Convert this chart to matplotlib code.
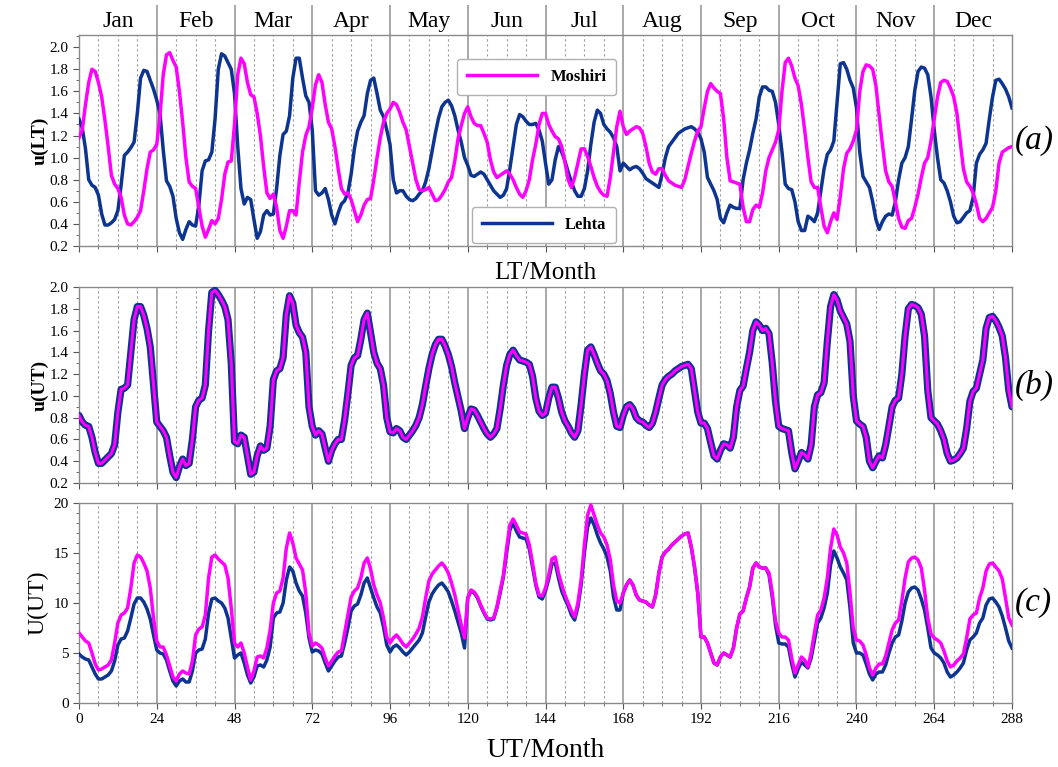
import numpy as np
import matplotlib
matplotlib.use("Agg")
import matplotlib.pyplot as plt
from matplotlib.ticker import MultipleLocator

plt.rcParams['font.family'] = ['Liberation Serif', 'DejaVu Serif']

months = ['Jan', 'Feb', 'Mar', 'Apr', 'May', 'Jun', 'Jul', 'Aug', 'Sep', 'Oct', 'Nov', 'Dec']
hours = np.arange(289)

# (a) u(LT) -- Lehta
lehta_ult = [
    1.35, 1.27, 1.08, 0.80, 0.75, 0.73, 0.66, 0.49, 0.39, 0.39, 0.41, 0.44, 0.52, 0.75, 1.02, 1.05, 1.09, 1.14, 1.40, 1.72, 1.79, 1.78, 1.70, 1.62,
    1.52, 1.40, 1.07, 0.79, 0.74, 0.65, 0.45, 0.32, 0.26, 0.35, 0.42, 0.39, 0.38, 0.57, 0.88, 0.97, 0.98, 1.05, 1.35, 1.80, 1.94, 1.92, 1.86, 1.80,
    1.58, 1.10, 0.72, 0.58, 0.64, 0.62, 0.44, 0.27, 0.33, 0.48, 0.52, 0.48, 0.49, 0.72, 1.02, 1.21, 1.24, 1.38, 1.72, 1.90, 1.90, 1.72, 1.56, 1.50,
    1.25, 0.70, 0.66, 0.68, 0.72, 0.62, 0.48, 0.40, 0.50, 0.58, 0.61, 0.68, 0.85, 1.08, 1.24, 1.32, 1.38, 1.58, 1.70, 1.72, 1.58, 1.43, 1.37, 1.25,
    1.12, 0.80, 0.68, 0.70, 0.70, 0.65, 0.62, 0.61, 0.63, 0.67, 0.70, 0.78, 0.90, 1.06, 1.22, 1.36, 1.46, 1.50, 1.52, 1.47, 1.38, 1.25, 1.14, 1.00,
    0.93, 0.84, 0.83, 0.85, 0.87, 0.85, 0.80, 0.75, 0.70, 0.67, 0.64, 0.66, 0.72, 0.90, 1.10, 1.30, 1.39, 1.37, 1.33, 1.30, 1.30, 1.31, 1.25, 1.15,
    0.95, 0.76, 0.80, 0.98, 1.10, 1.05, 0.97, 0.87, 0.78, 0.70, 0.65, 0.65, 0.72, 0.88, 1.12, 1.32, 1.43, 1.40, 1.30, 1.26, 1.23, 1.18, 1.10, 0.88,
    0.95, 0.92, 0.89, 0.91, 0.92, 0.90, 0.86, 0.81, 0.79, 0.77, 0.75, 0.73, 0.85, 1.00, 1.10, 1.14, 1.18, 1.22, 1.24, 1.26, 1.27, 1.28, 1.26, 1.23,
    1.17, 1.05, 0.82, 0.76, 0.70, 0.62, 0.45, 0.41, 0.50, 0.57, 0.55, 0.54, 0.54, 0.80, 0.95, 1.07, 1.22, 1.35, 1.55, 1.64, 1.64, 1.61, 1.60, 1.50,
    1.30, 1.05, 0.76, 0.72, 0.71, 0.60, 0.42, 0.34, 0.34, 0.47, 0.45, 0.42, 0.50, 0.70, 0.90, 1.03, 1.07, 1.15, 1.50, 1.85, 1.86, 1.80, 1.70, 1.63,
    1.45, 1.05, 0.83, 0.78, 0.73, 0.60, 0.44, 0.35, 0.42, 0.47, 0.49, 0.48, 0.60, 0.80, 0.95, 1.00, 1.10, 1.35, 1.61, 1.78, 1.82, 1.81, 1.75, 1.55,
    1.25, 1.00, 0.80, 0.77, 0.70, 0.60, 0.47, 0.41, 0.42, 0.46, 0.50, 0.52, 0.64, 0.95, 1.03, 1.07, 1.13, 1.35, 1.55, 1.70, 1.71, 1.67, 1.62, 1.55,
    1.45]

# (a) u(LT) -- Moshiri
moshiri_ult = [
    1.18, 1.25, 1.48, 1.68, 1.80, 1.78, 1.68, 1.55, 1.34, 1.10, 0.84, 0.76, 0.72, 0.64, 0.48, 0.40, 0.39, 0.42, 0.46, 0.52, 0.70, 0.90, 1.05, 1.07,
    1.12, 1.38, 1.75, 1.93, 1.95, 1.88, 1.82, 1.60, 1.32, 1.00, 0.78, 0.74, 0.72, 0.55, 0.38, 0.28, 0.35, 0.43, 0.40, 0.45, 0.62, 0.85, 0.96, 0.97,
    1.30, 1.75, 1.90, 1.85, 1.68, 1.57, 1.55, 1.40, 1.20, 0.92, 0.68, 0.63, 0.67, 0.55, 0.34, 0.27, 0.38, 0.52, 0.52, 0.48, 0.78, 1.05, 1.20, 1.28,
    1.45, 1.66, 1.75, 1.68, 1.48, 1.32, 1.26, 1.10, 0.90, 0.72, 0.67, 0.68, 0.62, 0.52, 0.42, 0.48, 0.57, 0.62, 0.63, 0.80, 1.00, 1.18, 1.32, 1.40,
    1.44, 1.50, 1.48, 1.41, 1.32, 1.25, 1.10, 0.95, 0.80, 0.71, 0.70, 0.71, 0.73, 0.67, 0.61, 0.62, 0.66, 0.71, 0.78, 0.82, 0.97, 1.17, 1.29, 1.40,
    1.46, 1.37, 1.31, 1.29, 1.29, 1.22, 1.14, 0.98, 0.87, 0.82, 0.84, 0.86, 0.88, 0.85, 0.80, 0.73, 0.67, 0.64, 0.70, 0.80, 0.98, 1.12, 1.30, 1.40,
    1.40, 1.30, 1.24, 1.19, 1.17, 1.10, 0.96, 0.80, 0.73, 0.82, 0.95, 1.08, 1.08, 1.01, 0.92, 0.82, 0.74, 0.69, 0.66, 0.65, 0.82, 1.05, 1.28, 1.42,
    1.28, 1.21, 1.24, 1.26, 1.28, 1.27, 1.22, 1.10, 0.95, 0.87, 0.85, 0.90, 0.90, 0.84, 0.79, 0.77, 0.75, 0.74, 0.73, 0.80, 0.92, 1.04, 1.15, 1.24,
    1.28, 1.45, 1.60, 1.67, 1.63, 1.60, 1.58, 1.35, 1.00, 0.79, 0.78, 0.77, 0.76, 0.55, 0.42, 0.42, 0.53, 0.57, 0.55, 0.68, 0.88, 1.00, 1.07, 1.14,
    1.25, 1.60, 1.86, 1.90, 1.83, 1.72, 1.65, 1.48, 1.25, 1.00, 0.78, 0.73, 0.73, 0.55, 0.38, 0.32, 0.42, 0.50, 0.44, 0.65, 0.90, 1.04, 1.08, 1.15,
    1.25, 1.60, 1.78, 1.84, 1.83, 1.80, 1.65, 1.38, 1.12, 0.88, 0.78, 0.74, 0.60, 0.45, 0.37, 0.36, 0.43, 0.45, 0.55, 0.67, 0.82, 0.95, 1.00, 1.15,
    1.35, 1.55, 1.68, 1.70, 1.69, 1.63, 1.55, 1.40, 1.15, 0.90, 0.78, 0.74, 0.68, 0.58, 0.45, 0.42, 0.45, 0.50, 0.55, 0.70, 0.95, 1.05, 1.07, 1.09,
    1.10]

# (b) u(UT) -- both stations coincide
lehta_uut = [
    0.82, 0.76, 0.73, 0.72, 0.62, 0.48, 0.38, 0.38, 0.41, 0.44, 0.47, 0.55, 0.85, 1.06, 1.07, 1.10, 1.40, 1.70, 1.82, 1.82, 1.74, 1.62, 1.45, 1.10,
    0.76, 0.72, 0.68, 0.62, 0.45, 0.30, 0.25, 0.35, 0.42, 0.36, 0.38, 0.60, 0.90, 0.96, 0.98, 1.10, 1.60, 1.95, 1.97, 1.93, 1.88, 1.82, 1.70, 1.30,
    0.58, 0.56, 0.64, 0.62, 0.45, 0.28, 0.30, 0.45, 0.54, 0.50, 0.52, 0.72, 1.15, 1.23, 1.25, 1.35, 1.75, 1.92, 1.85, 1.65, 1.58, 1.54, 1.40, 0.90,
    0.72, 0.64, 0.68, 0.65, 0.52, 0.40, 0.50, 0.56, 0.60, 0.60, 0.78, 1.02, 1.28, 1.35, 1.37, 1.52, 1.70, 1.76, 1.58, 1.40, 1.30, 1.25, 1.10, 0.80,
    0.67, 0.66, 0.70, 0.68, 0.62, 0.60, 0.64, 0.68, 0.73, 0.80, 0.92, 1.09, 1.25, 1.38, 1.47, 1.52, 1.52, 1.46, 1.38, 1.27, 1.12, 0.99, 0.86, 0.70,
    0.80, 0.88, 0.87, 0.82, 0.76, 0.70, 0.65, 0.62, 0.65, 0.70, 0.88, 1.10, 1.28, 1.38, 1.42, 1.37, 1.33, 1.32, 1.31, 1.29, 1.18, 0.98, 0.86, 0.82,
    0.84, 0.98, 1.08, 1.08, 0.98, 0.85, 0.77, 0.72, 0.66, 0.62, 0.68, 0.92, 1.20, 1.42, 1.45, 1.38, 1.30, 1.23, 1.20, 1.14, 1.02, 0.85, 0.72, 0.71,
    0.82, 0.90, 0.92, 0.88, 0.80, 0.77, 0.76, 0.73, 0.71, 0.75, 0.85, 0.98, 1.10, 1.15, 1.18, 1.20, 1.23, 1.25, 1.27, 1.28, 1.29, 1.25, 1.05, 0.85,
    0.75, 0.75, 0.70, 0.57, 0.45, 0.42, 0.50, 0.56, 0.55, 0.52, 0.62, 0.90, 1.05, 1.09, 1.25, 1.40, 1.60, 1.68, 1.65, 1.60, 1.62, 1.57, 1.30, 0.95,
    0.72, 0.70, 0.69, 0.68, 0.48, 0.33, 0.40, 0.48, 0.46, 0.42, 0.55, 0.90, 1.01, 1.03, 1.12, 1.50, 1.82, 1.93, 1.88, 1.78, 1.72, 1.66, 1.50, 1.00,
    0.77, 0.74, 0.72, 0.62, 0.40, 0.34, 0.40, 0.45, 0.43, 0.55, 0.72, 0.90, 0.96, 0.98, 1.20, 1.55, 1.80, 1.84, 1.83, 1.81, 1.75, 1.55, 1.05, 0.80,
    0.77, 0.74, 0.68, 0.60, 0.47, 0.40, 0.41, 0.43, 0.47, 0.52, 0.70, 0.95, 1.04, 1.07, 1.20, 1.33, 1.62, 1.72, 1.73, 1.69, 1.63, 1.55, 1.35, 1.05,
    0.90]
moshiri_uut = list(lehta_uut)

# (c) U(UT) -- Moshiri
moshiri_Uut = [
    7.0, 6.6, 6.2, 6.0, 5.0, 3.9, 3.3, 3.4, 3.6, 3.8, 4.3, 6.0, 8.0, 8.8, 9.0, 9.5, 11.5, 14.0, 14.8, 14.6, 14.0, 13.2, 11.5, 8.5,
    6.2, 5.6, 5.6, 4.8, 3.7, 2.6, 2.2, 2.9, 3.2, 3.0, 2.9, 4.2, 6.8, 7.4, 7.6, 8.8, 12.5, 14.6, 14.8, 14.4, 14.1, 13.8, 12.5, 9.5,
    6.0, 5.6, 6.0, 5.0, 3.6, 2.3, 3.2, 4.6, 4.7, 4.5, 5.5, 7.3, 10.0, 11.0, 11.2, 12.5, 15.5, 17.0, 16.0, 14.5, 13.9, 13.3, 11.0, 7.0,
    5.7, 6.0, 5.8, 5.5, 4.5, 3.7, 4.2, 4.7, 5.1, 5.2, 7.0, 8.8, 10.6, 11.2, 11.5, 12.5, 14.0, 14.5, 13.4, 11.8, 10.8, 10.0, 8.5, 6.6,
    6.0, 6.5, 6.8, 6.4, 5.9, 5.6, 6.0, 6.4, 6.9, 7.5, 8.6, 10.5, 12.2, 12.9, 13.3, 13.7, 14.0, 13.6, 13.0, 12.0, 10.8, 9.3, 7.8, 6.5,
    10.5, 11.3, 11.1, 10.6, 9.8, 9.1, 8.5, 8.4, 8.5, 9.6, 11.2, 12.8, 15.5, 17.8, 18.4, 17.8, 17.1, 17.0, 16.9, 15.8, 14.0, 12.0, 10.8, 10.7,
    11.5, 12.8, 14.4, 14.6, 13.0, 11.8, 10.8, 10.0, 9.2, 8.6, 10.0, 12.3, 15.8, 18.8, 19.8, 18.8, 17.8, 17.0, 16.6, 15.8, 14.3, 11.8, 10.2, 10.0,
    11.0, 11.8, 12.3, 11.8, 10.8, 10.3, 10.2, 10.1, 9.8, 9.6, 10.8, 13.0, 14.6, 15.1, 15.4, 15.8, 16.1, 16.4, 16.7, 16.9, 17.0, 15.6, 13.6, 11.0,
    6.6, 6.6, 6.0, 5.0, 4.0, 3.8, 4.6, 5.0, 4.8, 4.6, 5.5, 7.5, 8.9, 9.2, 10.5, 11.6, 13.5, 14.0, 13.6, 13.5, 13.5, 13.0, 11.0, 8.2,
    7.0, 6.6, 6.6, 6.3, 4.5, 3.0, 3.8, 4.6, 4.3, 3.6, 5.0, 7.0, 8.8, 9.3, 10.5, 12.5, 15.5, 17.4, 16.8, 15.6, 15.0, 14.0, 11.0, 7.5,
    6.3, 6.2, 5.8, 4.8, 3.5, 2.8, 3.5, 3.9, 3.9, 4.7, 6.0, 7.3, 8.0, 8.3, 10.2, 12.5, 14.1, 14.5, 14.6, 14.3, 13.5, 11.3, 8.5, 6.9,
    6.5, 6.3, 6.0, 5.2, 4.2, 3.6, 3.8, 4.2, 4.5, 4.9, 6.5, 8.4, 8.8, 9.0, 10.5, 11.5, 13.2, 13.9, 14.0, 13.6, 13.2, 12.4, 10.5, 8.5,
    7.8]

# (c) U(UT) -- Lehta
lehta_Uut = [
    4.9, 4.6, 4.4, 4.3, 3.6, 2.9, 2.4, 2.4, 2.6, 2.8, 3.2, 4.2, 5.8, 6.4, 6.5, 7.2, 8.5, 9.9, 10.5, 10.5, 10.1, 9.4, 8.4, 6.8,
    5.3, 5.0, 4.9, 4.3, 3.2, 2.2, 1.7, 2.2, 2.4, 2.1, 2.1, 3.2, 5.0, 5.3, 5.4, 6.4, 9.0, 10.4, 10.5, 10.2, 10.0, 9.5, 8.5, 6.5,
    4.5, 4.8, 5.0, 4.0, 2.8, 2.0, 2.6, 3.7, 3.8, 3.6, 4.3, 5.6, 8.5, 9.0, 9.1, 10.0, 12.3, 13.6, 13.2, 12.0, 11.2, 10.7, 9.0, 6.5,
    5.1, 5.3, 5.2, 4.9, 4.0, 3.2, 3.7, 4.2, 4.6, 4.7, 6.0, 7.5, 9.2, 9.7, 9.9, 10.8, 12.0, 12.5, 11.5, 10.5, 9.6, 9.0, 7.6, 5.8,
    5.1, 5.6, 5.8, 5.5, 5.1, 4.8, 5.1, 5.5, 5.9, 6.3, 7.0, 8.6, 10.1, 10.9, 11.4, 11.8, 12.0, 11.6, 11.1, 10.2, 9.2, 8.1, 7.0, 5.5,
    10.5, 11.2, 11.0, 10.5, 9.7, 9.0, 8.4, 8.3, 8.4, 9.5, 11.0, 12.6, 15.0, 17.3, 18.0, 17.2, 16.6, 16.5, 16.4, 15.4, 13.6, 11.8, 10.6, 10.4,
    11.2, 12.4, 13.9, 14.0, 12.5, 11.2, 10.4, 9.7, 8.8, 8.3, 9.6, 11.8, 15.0, 17.6, 18.5, 17.8, 16.8, 16.0, 15.4, 14.6, 13.2, 10.6, 9.3, 9.3,
    11.0, 11.8, 12.3, 11.8, 10.8, 10.3, 10.2, 10.1, 9.8, 9.6, 10.8, 13.0, 14.6, 15.1, 15.4, 15.8, 16.1, 16.4, 16.7, 16.9, 17.0, 15.6, 13.6, 11.0,
    6.6, 6.6, 6.0, 5.0, 4.0, 3.8, 4.6, 5.0, 4.8, 4.6, 5.5, 7.5, 8.9, 9.2, 10.5, 11.6, 13.5, 14.0, 13.6, 13.5, 13.5, 12.8, 10.6, 7.8,
    6.0, 5.9, 5.9, 5.6, 3.9, 2.6, 3.4, 4.1, 3.8, 3.5, 4.5, 6.2, 8.0, 8.5, 9.5, 11.0, 13.8, 15.2, 14.5, 13.6, 13.0, 12.3, 9.5, 6.0,
    5.0, 5.0, 4.8, 3.9, 2.9, 2.3, 2.9, 3.1, 3.1, 3.8, 5.0, 6.0, 6.6, 6.8, 8.2, 10.0, 11.1, 11.5, 11.6, 11.3, 10.4, 9.3, 7.5, 5.5,
    5.0, 4.8, 4.5, 4.0, 3.1, 2.6, 2.8, 3.1, 3.5, 4.0, 5.3, 6.3, 6.6, 7.0, 8.0, 8.5, 9.8, 10.4, 10.5, 10.1, 9.6, 8.7, 7.5, 6.2,
    5.5]

MAG = '#ff00ff'
BLUE = '#0c3490'

W, H = 1058, 767
fig = plt.figure(figsize=(W / 100, H / 100), dpi=100)

def fx(px):
    return px / W

def fy(py):
    return 1 - py / H

left, right = fx(79), fx(1012)
width = right - left

def make_ax(top, bottom):
    return fig.add_axes([left, fy(bottom), width, fy(top) - fy(bottom)])

hax = make_ax(5, 35)
ax_a = make_ax(35, 246)
ax_b = make_ax(287, 483)
ax_c = make_ax(503, 703)

# header with months
hax.set_xlim(0, 288)
hax.set_ylim(0, 1)
hax.set_xticks([])
hax.set_yticks([])
for s in hax.spines.values():
    s.set_visible(False)
for i, m in enumerate(months):
    hax.text(12 + 24 * i, 0.45, m, ha='center', va='center', fontsize=17)
    if i > 0:
        hax.axvline(24 * i, color='#9a9a9a', lw=1.2)

grid_dot = dict(color='#9a9a9a', lw=0.8, ls=(0, (2, 2.5)))
grid_solid = dict(color='#9a9a9a', lw=1.2)

for ax in (ax_a, ax_b, ax_c):
    ax.set_xlim(0, 288)
    for h in range(6, 288, 6):
        if h % 24 == 0:
            ax.axvline(h, zorder=0.5, **grid_solid)
        else:
            ax.axvline(h, zorder=0.5, **grid_dot)
    ax.xaxis.set_major_locator(MultipleLocator(24))
    ax.xaxis.set_minor_locator(MultipleLocator(6))
    ax.tick_params(axis='both', which='major', direction='out', length=4, width=0.8,
                   colors='#555555', labelcolor='black', labelsize=11)
    ax.tick_params(axis='both', which='minor', direction='out', length=2.5, width=0.6,
                   colors='#555555')
    for s in ax.spines.values():
        s.set_color('#8a8a8a')
        s.set_linewidth(1.0)

# panel (a)
l1, = ax_a.plot(hours, lehta_ult, color=BLUE, lw=2.5, label='Lehta', zorder=3)
l2, = ax_a.plot(hours, moshiri_ult, color=MAG, lw=2.5, label='Moshiri', zorder=3)
ax_a.set_ylim(0.2, 2.11)
ax_a.set_yticks(np.round(np.arange(0.2, 2.01, 0.2), 1))
ax_a.yaxis.set_minor_locator(MultipleLocator(0.1))
ax_a.set_xticklabels([])
ax_a.set_ylabel('u(LT)', fontsize=14, fontweight='bold')
ax_a.yaxis.set_label_coords(-0.033, 0.5)
ax_a.set_xlabel('LT/Month', fontsize=18, labelpad=4)

leg_kw = dict(prop={'weight': 'bold', 'size': 12}, handlelength=4.2, frameon=True,
              fancybox=True, edgecolor='#b0b0b0', framealpha=1, borderpad=0.6)
lg1 = ax_a.legend(handles=[l2], loc='upper right', bbox_to_anchor=(0.585, 0.925), **leg_kw)
ax_a.add_artist(lg1)
ax_a.legend(handles=[l1], loc='lower right', bbox_to_anchor=(0.585, -0.025), **leg_kw)

# panel (b)
ax_b.plot(hours, lehta_uut, color=BLUE, lw=5.2, zorder=3, solid_capstyle='round')
ax_b.plot(hours, moshiri_uut, color=MAG, lw=2.2, zorder=4)
ax_b.set_ylim(0.2, 2.0)
ax_b.set_yticks(np.round(np.arange(0.2, 2.01, 0.2), 1))
ax_b.yaxis.set_minor_locator(MultipleLocator(0.1))
ax_b.set_xticklabels([])
ax_b.set_ylabel('u(UT)', fontsize=14, fontweight='bold')
ax_b.yaxis.set_label_coords(-0.033, 0.5)

# panel (c)
ax_c.plot(hours, lehta_Uut, color=BLUE, lw=2.5, zorder=3)
ax_c.plot(hours, moshiri_Uut, color=MAG, lw=2.5, zorder=3)
ax_c.set_ylim(0, 20)
ax_c.yaxis.set_major_locator(MultipleLocator(5))
ax_c.yaxis.set_minor_locator(MultipleLocator(1))
ax_c.set_ylabel('U(UT)', fontsize=17)
ax_c.yaxis.set_label_coords(-0.033, 0.5)
ax_c.set_xlabel('UT/Month', fontsize=20, labelpad=8)

for ax, lab in ((ax_a, '(a)'), (ax_b, '(b)'), (ax_c, '(c)')):
    ax.text(1.003, 0.5, lab, transform=ax.transAxes, fontsize=24, style='italic',
            ha='left', va='center')

fig.savefig('out.png', dpi=100)
